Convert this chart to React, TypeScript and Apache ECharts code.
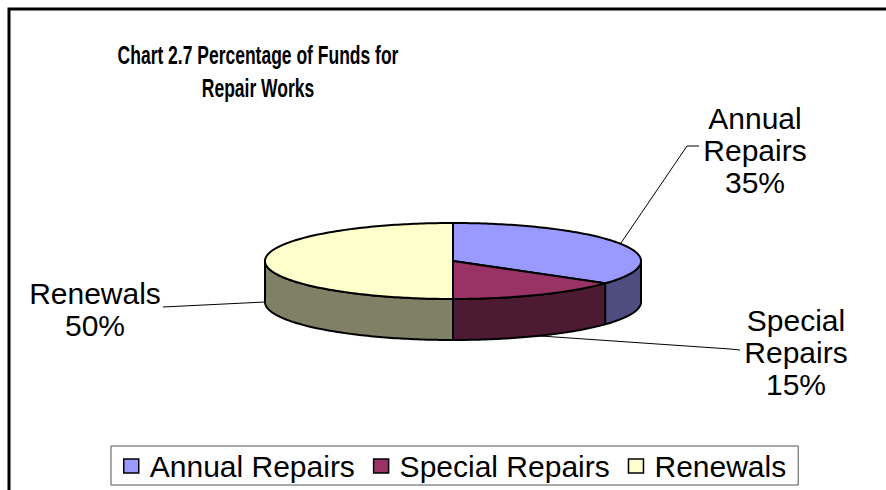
import React, { useEffect, useRef } from "react";
import * as echarts from "echarts";

const CATEGORIES = ["Annual Repairs", "Special Repairs", "Renewals"];
const VALUES = [35, 15, 50];
const TOP_COLORS = ["#9999FF", "#993366", "#FFFFCC"];
const SIDE_COLORS = ["#4D4D80", "#4D1A33", "#808066"];

const TITLE_LINES = ["Chart 2.7 Percentage of Funds for", "Repair Works"];

// layout of the 3D pie and its labels
const PIE = { cx: 453, cy: 261, rx: 188, ry: 38, depth: 41 };
const LABEL_LAYOUT = [
  { leader: [[687, 146], [699, 146]], text: [755, 150] },
  { leader: [[730, 349], [740, 350]], text: [796, 352] },
  { leader: [[163, 307]], text: [95, 309] },
];
const FONT = "'Liberation Sans', Arial, sans-serif";

const total = VALUES.reduce((a, b) => a + b, 0);

function pt(theta: number, dy = 0): number[] {
  const r = (theta * Math.PI) / 180;
  return [PIE.cx + PIE.rx * Math.sin(r), PIE.cy - PIE.ry * Math.cos(r) + dy];
}
function arc(a: number, b: number, dy = 0): number[][] {
  const pts: number[][] = [];
  const steps = Math.max(2, Math.ceil((b - a) / 1));
  for (let k = 0; k <= steps; k++) pts.push(pt(a + ((b - a) * k) / steps, dy));
  return pts;
}

function makeRenderItem(i: number) {
  return (_params: any, api: any) => {
    const v = api.value(0);
    const before = VALUES.slice(0, i).reduce((a, b) => a + b, 0);
    const start = (before / total) * 360;
    const end = start + (v / total) * 360;
    const children: any[] = [];
    const a = Math.max(start, 90);
    const b = Math.min(end, 270);
    if (b > a) {
      const top = arc(a, b);
      const bottom = arc(a, b, PIE.depth).reverse();
      children.push({
        type: "polygon",
        shape: { points: top.concat(bottom) },
        style: { fill: SIDE_COLORS[i], stroke: "#000", lineWidth: 2, lineJoin: "round" },
      });
    }
    children.push({
      type: "polygon",
      shape: { points: [[PIE.cx, PIE.cy]].concat(arc(start, end)) },
      style: { fill: TOP_COLORS[i], stroke: "#000", lineWidth: 2, lineJoin: "round" },
    });
    const mid = (start + end) / 2;
    const front = Math.cos((mid * Math.PI) / 180) <= 1e-6;
    const s = pt(mid, front ? PIE.depth : 0);
    const lay = LABEL_LAYOUT[i];
    children.push({
      type: "polyline",
      shape: { points: [s].concat(lay.leader) },
      style: { stroke: "#000", lineWidth: 1, fill: null },
    });
    const pct = Math.round((v / total) * 100);
    children.push({
      type: "text",
      x: lay.text[0],
      y: lay.text[1],
      style: {
        text: CATEGORIES[i].split(" ").join("\n") + "\n" + pct + "%",
        fontFamily: FONT,
        fontSize: 30,
        lineHeight: 32,
        fill: "#000",
        align: "center",
        verticalAlign: "middle",
      },
    });
    return { type: "group", children };
  };
}

export default function App() {
  const ref = useRef<HTMLDivElement>(null);
  useEffect(() => {
    document.body.style.margin = "0";
    const chart = echarts.init(ref.current!, null, { renderer: "svg" });
    chart.setOption({
      animation: false,
      backgroundColor: "#fff",
      graphic: [
        {
          type: "rect",
          shape: { x: 9, y: 9, width: 1000, height: 1000 },
          style: { fill: "none", stroke: "#000", lineWidth: 3 },
          z: 100,
        },
        {
          type: "text",
          x: 258,
          y: 72,
          scaleX: 0.7,
          style: {
            text: TITLE_LINES.join("\n"),
            fontFamily: "'Liberation Sans', Arial, sans-serif",
            fontWeight: "bold",
            fontSize: 25,
            lineHeight: 33,
            fill: "#000",
            align: "center",
            verticalAlign: "middle",
          },
        },
      ],
      legend: {
        data: CATEGORIES,
        left: 111,
        top: 446,
        orient: "horizontal",
        icon: "rect",
        itemWidth: 15,
        itemHeight: 14,
        itemGap: 18,
        selectedMode: false,
        padding: [5, 12, 4, 12],
        borderColor: "#555",
        borderWidth: 1,
        backgroundColor: "#fff",
        itemStyle: { borderColor: "#000", borderWidth: 1.5 },
        textStyle: { fontFamily: FONT, fontSize: 30, color: "#000", padding: [0, 0, 0, 6] },
      },
      series: CATEGORIES.map((name, i) => ({
        type: "custom",
        name,
        coordinateSystem: "none",
        silent: true,
        itemStyle: { color: TOP_COLORS[i], borderColor: "#000", borderWidth: 1.5 },
        renderItem: makeRenderItem(i),
        data: [VALUES[i]],
      })),
    });
    return () => chart.dispose();
  }, []);
  return <div ref={ref} style={{ width: 886, height: 490 }} />;
}
